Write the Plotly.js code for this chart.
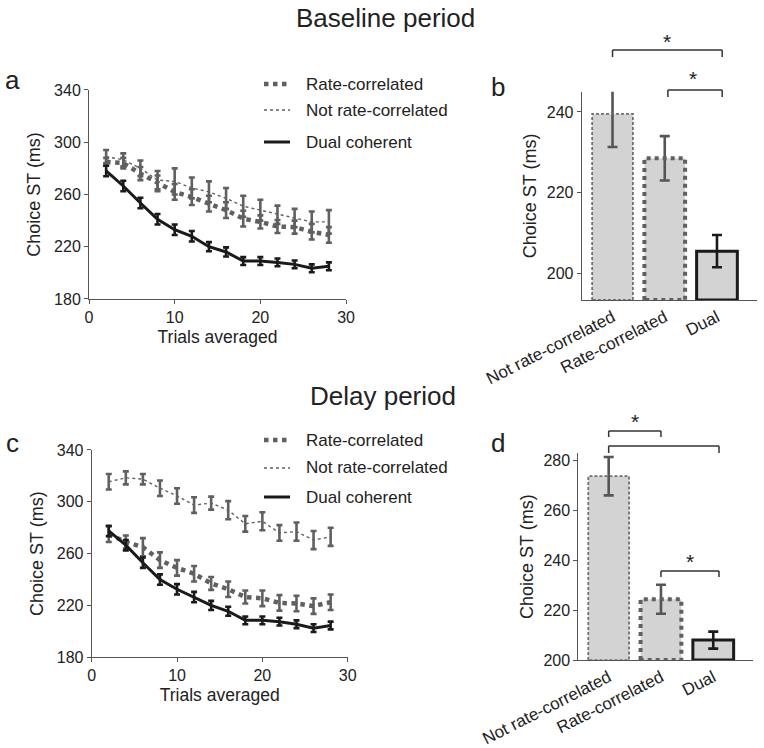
<!DOCTYPE html>
<html>
<head>
<meta charset="utf-8">
<script src="https://cdn.plot.ly/plotly-3.0.1.min.js"></script>
<style>html,body{margin:0;padding:0;background:#fff;}#chart{width:764px;height:748px;}</style>
</head>
<body>
<div id="chart"></div>
<script>
// ---------- DATA ----------
const trials = [2, 4, 6, 8, 10, 12, 14, 16, 18, 20, 22, 24, 26, 28];

// Panel a: Baseline period
const baseRate     = [285, 284, 276, 268.5, 262, 258, 253, 248, 241.5, 239, 235.5, 235, 231.5, 229];
const baseRateErr  = [3, 4, 5, 6, 6, 6, 6, 6, 6, 5, 5, 5, 6, 6];
const baseNot      = [289, 286.5, 280, 271, 270, 265, 262, 257, 251, 248, 244.5, 242, 239, 239];
const baseNotErr   = [5, 5, 6, 7, 10, 8, 8, 8, 8, 8, 7, 7, 8, 9];
const baseDual     = [278, 266.5, 253.5, 241, 233, 228, 220, 216, 209, 209, 208, 206.5, 203.5, 205];
const baseDualErr  = [4, 4, 4, 4, 4, 4, 3.5, 3.5, 3, 3, 3, 3, 3, 3];

// Panel c: Delay period
const delayRate    = [275, 269, 265, 255, 249, 244.5, 237, 232.5, 226.5, 225.5, 222, 221.5, 219.5, 222.5];
const delayRateErr = [6, 5, 7, 6, 6, 6, 5, 6, 5, 6, 6, 6, 6, 6];
const delayNot     = [315.5, 318.5, 317.5, 310.5, 304.5, 297.5, 299, 293.5, 283, 285, 276, 277, 270.5, 273];
const delayNotErr  = [6, 5, 4, 6, 6, 6, 5, 7, 6, 7, 6, 7, 7, 7];
const delayDual    = [277.5, 266.5, 253, 240, 232.5, 226.5, 220, 215.5, 208.5, 208.5, 207.5, 205.5, 202.5, 204.5];
const delayDualErr = [4, 4, 4, 4, 4, 4, 3.5, 3.5, 3, 3, 3, 3, 3, 3];

// Panels b and d: bar summaries
const categories   = ['Not rate-correlated', 'Rate-correlated', 'Dual'];
const baseBars     = [239.5, 228.5, 205.5];
const baseBarsErr  = [8.2, 5.5, 4];
const delayBars    = [273.8, 224.4, 208];
const delayBarsErr = [7.7, 5.8, 3.4];

const legendNames  = ['Rate-correlated', 'Not rate-correlated', 'Dual coherent'];

// ---------- STYLES ----------
const FONT = 'Liberation Sans, Arial, Helvetica, sans-serif';
const GRAY = '#606060';
const BLACK = '#1a1a1a';
const TXT = '#222';
const FILL = '#d3d3d3';

function lineTraces(xa, ya, rate, rateE, nots, notE, dual, dualE) {
  return [
    {x: trials, y: nots, xaxis: xa, yaxis: ya, type: 'scatter', mode: 'lines',
     line: {color: GRAY, width: 1.4, dash: '3px,3px'},
     error_y: {type: 'data', array: notE, visible: true, color: GRAY, thickness: 2.6, width: 3}},
    {x: trials, y: rate, xaxis: xa, yaxis: ya, type: 'scatter', mode: 'lines',
     line: {color: GRAY, width: 4.5, dash: 'dot'},
     error_y: {type: 'data', array: rateE, visible: true, color: GRAY, thickness: 2.6, width: 3}},
    {x: trials, y: dual, xaxis: xa, yaxis: ya, type: 'scatter', mode: 'lines',
     line: {color: BLACK, width: 3},
     error_y: {type: 'data', array: dualE, visible: true, color: BLACK, thickness: 2.6, width: 3}}
  ];
}

const barStyles = [
  {color: '#707070', width: 1.8, dash: '3px,2px', err: '#555'},
  {color: '#606060', width: 4, dash: 'dot', err: '#555'},
  {color: BLACK, width: 3, dash: 'solid', err: BLACK}
];
const HALF = 0.39;

function barTraces(xa, ya, vals, errs, base) {
  const tr = [];
  vals.forEach((v, i) => {
    const s = barStyles[i];
    tr.push({x: [i], y: [v], xaxis: xa, yaxis: ya, type: 'bar', width: 2 * HALF,
      marker: {color: FILL, line: {width: 0}},
      error_y: {type: 'data', array: [errs[i]], visible: true, color: s.err, thickness: 2.6, width: 5}});
    tr.push({x: [i - HALF, i - HALF, i + HALF, i + HALF, i - HALF],
      y: [base, v, v, base, base], xaxis: xa, yaxis: ya, type: 'scatter', mode: 'lines',
      cliponaxis: false, line: {color: s.color, width: s.width, dash: s.dash}});
  });
  return tr;
}

const data = [].concat(
  lineTraces('x', 'y', baseRate, baseRateErr, baseNot, baseNotErr, baseDual, baseDualErr),
  barTraces('x2', 'y2', baseBars, baseBarsErr, 193.4),
  lineTraces('x3', 'y3', delayRate, delayRateErr, delayNot, delayNotErr, delayDual, delayDualErr),
  barTraces('x4', 'y4', delayBars, delayBarsErr, 200)
);

const axBase = {
  showline: true, linecolor: '#555', linewidth: 1, ticks: 'outside', ticklen: 4,
  tickcolor: '#555', tickfont: {family: FONT, size: 16, color: TXT},
  showgrid: false, zeroline: false, fixedrange: true
};
function ax(extra) { return Object.assign({}, axBase, extra); }
const ytitle = {text: 'Choice ST (ms)', font: {family: FONT, size: 18, color: TXT}, standoff: 8};
const ytitleBar = {text: 'Choice ST (ms)', font: {family: FONT, size: 18, color: TXT}, standoff: 5};
const xtitle = {text: 'Trials averaged', font: {family: FONT, size: 17.5, color: TXT}, standoff: 5};
const barTick = {family: FONT, size: 17, color: TXT};

function P(py) { return 1 - py / 748; }
function PX(px) { return px / 764; }

const annotations = [];
const shapes = [];
function ann(text, x, y, size, xref, xanchor) {
  annotations.push({text: text, x: x, y: y, xref: xref || 'paper', yref: 'paper',
    xanchor: xanchor || 'center', yanchor: 'middle', showarrow: false,
    font: {family: FONT, size: size, color: TXT}});
}
ann('Baseline period', PX(386), P(18), 26);
ann('Delay period', PX(383), P(396), 26);
ann('a', PX(12), P(80), 26);
ann('b', PX(498), P(87), 26);
ann('c', PX(12), P(443), 26);
ann('d', PX(498), P(443), 26);

// legends
function legend(rows) {
  const styles = [
    {color: GRAY, width: 4.5, dash: 'dot'},
    {color: GRAY, width: 1.4, dash: '3px,3px'},
    {color: BLACK, width: 3, dash: 'solid'}
  ];
  rows.forEach((py, i) => {
    shapes.push({type: 'line', xref: 'paper', yref: 'paper', x0: PX(264), x1: PX(290), y0: P(py), y1: P(py),
      line: styles[i]});
    ann(legendNames[i], PX(304), P(py), 17, 'paper', 'left');
  });
}
legend([84, 110, 142]);
legend([440, 468, 497]);

// significance brackets
function bracket(xa, x0, x1, py, drop) {
  const l = {color: '#333', width: 1.5};
  shapes.push({type: 'line', xref: xa, yref: 'paper', x0: x0, x1: x1, y0: P(py), y1: P(py), line: l});
  shapes.push({type: 'line', xref: xa, yref: 'paper', x0: x0, x1: x0, y0: P(py), y1: P(py + drop), line: l});
  shapes.push({type: 'line', xref: xa, yref: 'paper', x0: x1, x1: x1, y0: P(py), y1: P(py + drop), line: l});
}
function star(xa, x, py) {
  annotations.push({text: '*', x: x, y: P(py), xref: xa, yref: 'paper', xanchor: 'center', yanchor: 'middle',
    showarrow: false, font: {family: FONT, size: 21, color: TXT}});
}
bracket('x2', 0, 2.1, 50, 7);   star('x2', 1.05, 41);
bracket('x2', 1.06, 2.1, 90, 7); star('x2', 1.55, 79);
bracket('x4', 0, 1, 431, 6);     star('x4', 0.5, 421);
bracket('x4', 0, 2.11, 446, 7);
bracket('x4', 1, 2.11, 571, 6);  star('x4', 1.55, 561);

const layout = {
  width: 764, height: 748, margin: {l: 0, r: 0, t: 0, b: 0},
  paper_bgcolor: '#fff', plot_bgcolor: 'rgba(0,0,0,0)', showlegend: false,
  font: {family: FONT, color: TXT},
  xaxis:  ax({domain: [0.1165, 0.4529], range: [0, 30], tickvals: [0, 10, 20, 30], anchor: 'y', title: xtitle}),
  yaxis:  ax({domain: [0.6003, 0.8797], range: [180, 340], tickvals: [180, 220, 260, 300, 340], anchor: 'x', title: ytitle}),
  xaxis2: ax({domain: [0.7614, 0.9904], range: [-0.59, 2.76], tickvals: [0, 1, 2], ticktext: categories,
              ticks: '', tickangle: -27, anchor: 'y2', tickfont: barTick}),
  yaxis2: ax({domain: [0.5989, 0.8774], range: [193.4, 245], tickvals: [200, 220, 240], anchor: 'x2', title: ytitleBar}),
  xaxis3: ax({domain: [0.12, 0.4551], range: [0, 30], tickvals: [0, 10, 20, 30], anchor: 'y3', title: xtitle}),
  yaxis3: ax({domain: [0.1213, 0.3984], range: [180, 340], tickvals: [180, 220, 260, 300, 340], anchor: 'x3', title: ytitle}),
  xaxis4: ax({domain: [0.757, 0.9856], range: [-0.58, 2.76], tickvals: [0, 1, 2], ticktext: categories,
              ticks: '', tickangle: -27, anchor: 'y4', tickfont: barTick}),
  yaxis4: ax({domain: [0.1176, 0.394], range: [200, 283], tickvals: [200, 220, 240, 260, 280], anchor: 'x4', title: ytitleBar}),
  annotations: annotations,
  shapes: shapes
};

Plotly.newPlot('chart', data, layout, {staticPlot: true, displayModeBar: false});
</script>
</body>
</html>
